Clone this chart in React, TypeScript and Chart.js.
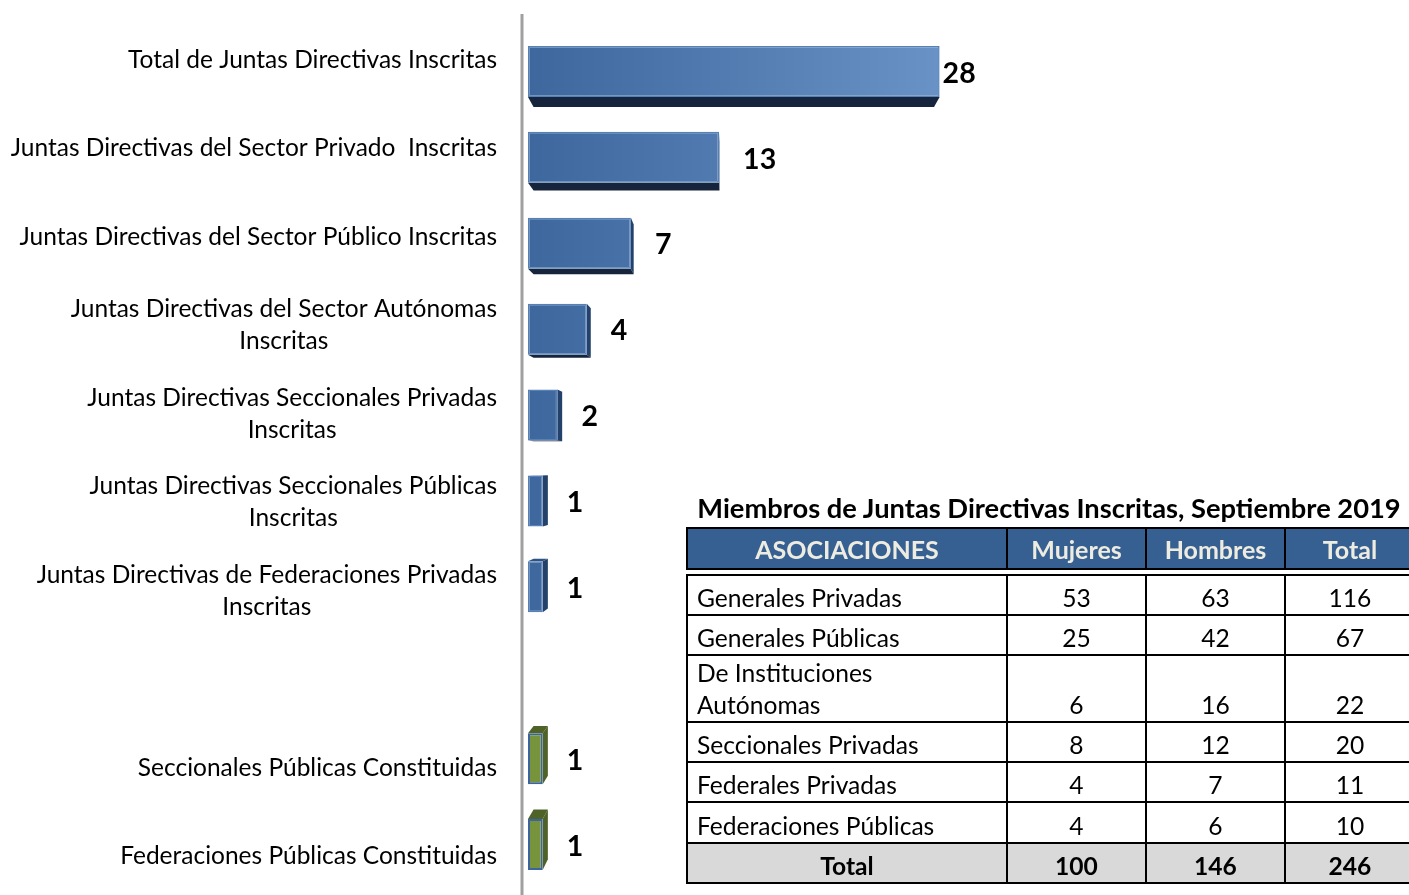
import React, { useEffect, useRef } from 'react';
import { Chart, registerables } from 'chart.js';

Chart.register(...registerables);

// ---------- Chart data ----------
const categories: string[] = [
  'Total de Juntas Directivas Inscritas',
  'Juntas Directivas del Sector Privado  Inscritas',
  'Juntas Directivas del Sector Público Inscritas',
  'Juntas Directivas del Sector Autónomas\nInscritas',
  'Juntas Directivas Seccionales Privadas\nInscritas',
  'Juntas Directivas Seccionales Públicas\nInscritas',
  'Juntas Directivas de Federaciones Privadas\nInscritas',
  '',
  'Seccionales Públicas Constituidas',
  'Federaciones Públicas Constituidas',
];
const values: (number | null)[] = [28, 13, 7, 4, 2, 1, 1, null, 1, 1];
const groups: string[] = ['inscrita', 'inscrita', 'inscrita', 'inscrita', 'inscrita', 'inscrita', 'inscrita', '', 'constituida', 'constituida'];

// ---------- Table data ----------
const tableTitle = 'Miembros de Juntas Directivas Inscritas, Septiembre 2019';
const tableHeaders = ['ASOCIACIONES', 'Mujeres', 'Hombres', 'Total'];
const rowNames = [
  'Generales Privadas',
  'Generales Públicas',
  'De Instituciones\nAutónomas',
  'Seccionales Privadas',
  'Federales Privadas',
  'Federaciones Públicas',
];
const mujeres = [53, 25, 6, 8, 4, 4];
const hombres = [63, 42, 16, 12, 7, 6];
const totales = [116, 67, 22, 20, 11, 10];
const totalLabel = 'Total';
const totalRow = [100, 146, 246];

// ---------- Styles ----------
const FONT = 'Lato, "Noto Sans", sans-serif';
const VP = { x: 734, y: 470 };
const DEPTH = 0.027;
const LABEL_PERSPECTIVE = 1.03;
const COLORS = {
  inscrita: { from: '#3D679D', to: '#6992C6', border: '#5581B8', bottom: '#17253C', side: '#23416B', top: '#2E5283' },
  constituida: { from: '#77933C', to: '#77933C', border: '#3B64A0', bottom: '#4F6228', side: '#4F6228', top: '#4F6228' },
};

const axisLinePlugin = {
  id: 'axisLine',
  beforeDatasetsDraw(chart: any) {
    const { ctx, chartArea } = chart;
    ctx.save();
    ctx.strokeStyle = '#A0A0A0';
    ctx.lineWidth = 3;
    ctx.beginPath();
    ctx.moveTo(chartArea.left - 6, 14);
    ctx.lineTo(chartArea.left - 6, chart.height);
    ctx.stroke();
    ctx.restore();
  },
};

const depthPlugin = {
  id: 'depth3d',
  beforeDatasetsDraw(chart: any) {
    const { ctx } = chart;
    const meta = chart.getDatasetMeta(0);
    const back = (px: number, py: number) => [px + (VP.x - px) * DEPTH, py + (VP.y - py) * DEPTH];
    ctx.save();
    meta.data.forEach((el: any, i: number) => {
      if (values[i] == null) return;
      const c = (COLORS as any)[groups[i]];
      const p = el.getProps(['x', 'y', 'base', 'height'], true);
      const l = Math.min(p.x, p.base), r = Math.max(p.x, p.base);
      const t = p.y - p.height / 2, b = p.y + p.height / 2;
      const bTL = back(l, t), bTR = back(r, t), bBR = back(r, b), bBL = back(l, b);
      const quad = (pts: number[][], color: string) => {
        ctx.fillStyle = color;
        ctx.beginPath();
        ctx.moveTo(pts[0][0], pts[0][1]);
        for (let k = 1; k < pts.length; k++) ctx.lineTo(pts[k][0], pts[k][1]);
        ctx.closePath();
        ctx.fill();
      };
      if (bBR[0] > r) quad([[r, t], [r, b], bBR, bTR], c.side);
      if (bBL[1] > b) quad([[l, b], [r, b], bBR, bBL], c.bottom);
      if (bTL[1] < t) quad([[l, t], [r, t], bTR, bTL], c.top);
    });
    ctx.restore();
  },
};

const valueLabelPlugin = {
  id: 'valueLabels',
  afterDatasetsDraw(chart: any) {
    const { ctx, chartArea } = chart;
    const meta = chart.getDatasetMeta(0);
    ctx.save();
    ctx.font = `bold 28.5px ${FONT}`;
    ctx.fillStyle = '#000';
    ctx.textBaseline = 'middle';
    ctx.textAlign = 'left';
    meta.data.forEach((el: any, i: number) => {
      const v = values[i];
      if (v == null) return;
      const p = el.getProps(['x', 'y', 'base'], true);
      const end = Math.max(p.x, p.base);
      const txt = String(v);
      const w = ctx.measureText(txt).width;
      let x = end + 24;
      if (x + w > chartArea.right + 6) x = Math.max(end + 3, chartArea.right + 6 - w);
      ctx.fillText(txt, x, p.y + 2);
    });
    ctx.restore();
  },
};

const categoryLabelPlugin = {
  id: 'categoryLabels',
  afterDraw(chart: any) {
    const { ctx, chartArea } = chart;
    const scale = chart.scales.y;
    const mid = (chartArea.top + chartArea.bottom) / 2;
    ctx.save();
    ctx.font = `24.5px ${FONT}`;
    ctx.fillStyle = '#000';
    ctx.textBaseline = 'middle';
    ctx.textAlign = 'center';
    const lh = 32;
    categories.forEach((label, i) => {
      if (!label) return;
      const lines = label.split('\n');
      const w = Math.max(...lines.map((s) => ctx.measureText(s).width));
      const right = chartArea.left - 31;
      const cx = right - w / 2;
      const y = mid + (scale.getPixelForValue(i) - mid) * LABEL_PERSPECTIVE;
      const y0 = y - ((lines.length - 1) * lh) / 2;
      lines.forEach((s, k) => ctx.fillText(s, cx, y0 + k * lh));
    });
    ctx.restore();
  },
};

function BarChart() {
  const ref = useRef<HTMLCanvasElement>(null);
  useEffect(() => {
    if (!ref.current) return;
    const maxVal = Math.max(...(values.filter((v) => v != null) as number[]));
    const chart = new Chart(ref.current, {
      type: 'bar',
      data: {
        labels: categories,
        datasets: [
          {
            data: values,
            backgroundColor: (c: any) => {
              const g = groups[c.dataIndex];
              const col = (COLORS as any)[g] || COLORS.inscrita;
              const area = c.chart.chartArea;
              if (!area) return col.from;
              const xs = c.chart.scales.x;
              const grad = c.chart.ctx.createLinearGradient(xs.getPixelForValue(0), 0, xs.getPixelForValue(maxVal), 0);
              grad.addColorStop(0, col.from);
              grad.addColorStop(1, col.to);
              return grad;
            },
            borderColor: groups.map((g) => ((COLORS as any)[g] || COLORS.inscrita).border),
            borderWidth: groups.map((g) => (g === 'constituida' ? 2 : 1.5)),
            borderSkipped: false,
            categoryPercentage: 1,
            barPercentage: 0.594,
            yAxisID: 'y',
            xAxisID: 'x',
          } as any,
        ],
      },
      options: {
        indexAxis: 'y',
        animation: false,
        responsive: false,
        layout: { padding: { left: 528, right: 440, top: 28.5, bottom: 7.5 } },
        plugins: { legend: { display: false }, tooltip: { enabled: false }, title: { display: false } },
        scales: {
          x: { type: 'linear', min: 0, max: 30, display: false },
          y: { type: 'category', display: false, offset: true },
        },
      },
      plugins: [axisLinePlugin, depthPlugin, valueLabelPlugin, categoryLabelPlugin],
    } as any);
    return () => chart.destroy();
  }, []);
  return <canvas ref={ref} width={1409} height={895} style={{ position: 'absolute', left: 0, top: 0, width: 1409, height: 895 }} />;
}

const colWidths = [320, 139, 139, 130];
const bodyRowHeights = [40, 40, 67, 40, 40, 41, 40];
const border = '2px solid #000';

function DataTable() {
  const cellBase: React.CSSProperties = { border, padding: 0, boxSizing: 'border-box' };
  const bodyFont = `24.6px ${FONT}`;
  const bodyBold = `bold 24.6px ${FONT}`;
  return (
    <>
      <div
        style={{
          position: 'absolute', left: 686, top: 490, width: 726, height: 36, textAlign: 'center',
          font: `bold 27.3px ${FONT}`, lineHeight: '36px', color: '#000', whiteSpace: 'nowrap',
        }}
      >
        {tableTitle}
      </div>
      <table style={{ position: 'absolute', left: 686, top: 527, borderCollapse: 'collapse', tableLayout: 'fixed', width: colWidths.reduce((a, b) => a + b, 0) }}>
        <colgroup>
          {colWidths.map((w, i) => <col key={i} style={{ width: w }} />)}
        </colgroup>
        <tbody>
          <tr style={{ height: 41 }}>
            {tableHeaders.map((h, i) => (
              <td key={i} style={{ ...cellBase, background: '#376092', color: '#EEECE1', font: `bold 25px ${FONT}`, textAlign: 'center', verticalAlign: 'middle', lineHeight: '36px' }}>
                {h}
              </td>
            ))}
          </tr>
        </tbody>
      </table>
      <table style={{ position: 'absolute', left: 686, top: 574, borderCollapse: 'collapse', tableLayout: 'fixed', width: colWidths.reduce((a, b) => a + b, 0) }}>
        <colgroup>
          {colWidths.map((w, i) => <col key={i} style={{ width: w }} />)}
        </colgroup>
        <tbody>
          {rowNames.map((name, r) => (
            <tr key={r} style={{ height: bodyRowHeights[r] }}>
              <td style={{ ...cellBase, font: bodyFont, lineHeight: '32px', textAlign: 'left', verticalAlign: 'bottom', paddingLeft: 9, whiteSpace: 'pre-line', color: '#000' }}>{name}</td>
              {[mujeres[r], hombres[r], totales[r]].map((v, k) => (
                <td key={k} style={{ ...cellBase, font: bodyFont, lineHeight: '32px', textAlign: 'center', verticalAlign: 'bottom', color: '#000' }}>{v}</td>
              ))}
            </tr>
          ))}
          <tr style={{ height: bodyRowHeights[6] }}>
            <td style={{ ...cellBase, background: '#D9D9D9', font: bodyBold, lineHeight: '32px', textAlign: 'center', verticalAlign: 'bottom', color: '#000' }}>{totalLabel}</td>
            {totalRow.map((v, k) => (
              <td key={k} style={{ ...cellBase, background: '#D9D9D9', font: bodyBold, lineHeight: '32px', textAlign: 'center', verticalAlign: 'bottom', color: '#000' }}>{v}</td>
            ))}
          </tr>
        </tbody>
      </table>
    </>
  );
}

export default function App() {
  return (
    <div style={{ position: 'absolute', left: 0, top: 0, width: 1409, height: 895, overflow: 'hidden', background: '#fff' }}>
      <BarChart />
      <DataTable />
    </div>
  );
}
